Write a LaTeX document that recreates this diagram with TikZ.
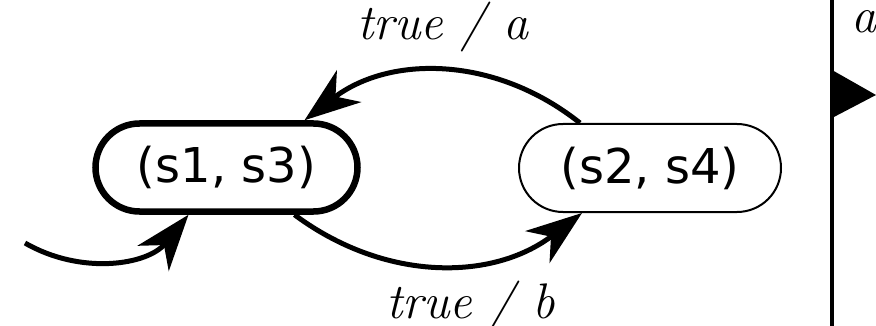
\documentclass[tikz,border=0pt]{standalone}
\usepackage{fontspec}
\newfontfamily\statefont{DejaVu Sans}
\usetikzlibrary{calc}
\usetikzlibrary{arrows.meta}

\begin{document}
\begin{tikzpicture}[x=1pt,y=1pt]
% % Styles
 \tikzset{
 	state/.style={draw, rectangle, rounded corners=44pt, minimum width=262pt, minimum height=88pt, inner sep=0pt, font=\statefont\fontsize{48}{50}\selectfont},
 	initstate/.style={state, line width=6.5pt},
 	plainstate/.style={state, line width=2pt},
 	trans/.style={line width=5pt, -{Stealth[length=56pt,width=40pt,inset=17pt]}},
 	lbl/.style={inner sep=0pt, font=\fontsize{50}{52}\selectfont\itshape}
 }
 \useasboundingbox (0,0) rectangle (876,-326);
 \clip (0,0) rectangle (876,-326);
% % States
 \node[initstate] (s13) at (226.5,-167.5) {(s1, s3)};
 \node[plainstate] (s24) at (650,-168) {(s2, s4)};
 \coordinate (start) at (25,-243);
 % transitions here
 \draw[trans] ([xshift=-70pt]s24.north) to[bend right=38] node[lbl, above=17pt] (lbla) {true / a} ([xshift=78pt]s13.north);
 \draw[trans] ([xshift=68pt]s13.south) to[bend right=37] node[lbl, below=14pt, xshift=32pt] (lblb) {true / b} ([xshift=-68pt]s24.south);
 \draw[trans] (start) to[out=-30, in=-129] ([xshift=-38pt]s13.south);
% % Next picture, cut off
 \draw[line width=3.5pt] (832,0) -- (832,-326);
 \fill (832,-70) -- (876,-95) -- (832,-118) -- cycle;
 \node[lbl, anchor=base west] (aout) at (851,-33) {a};
\end{tikzpicture}
\end{document}
